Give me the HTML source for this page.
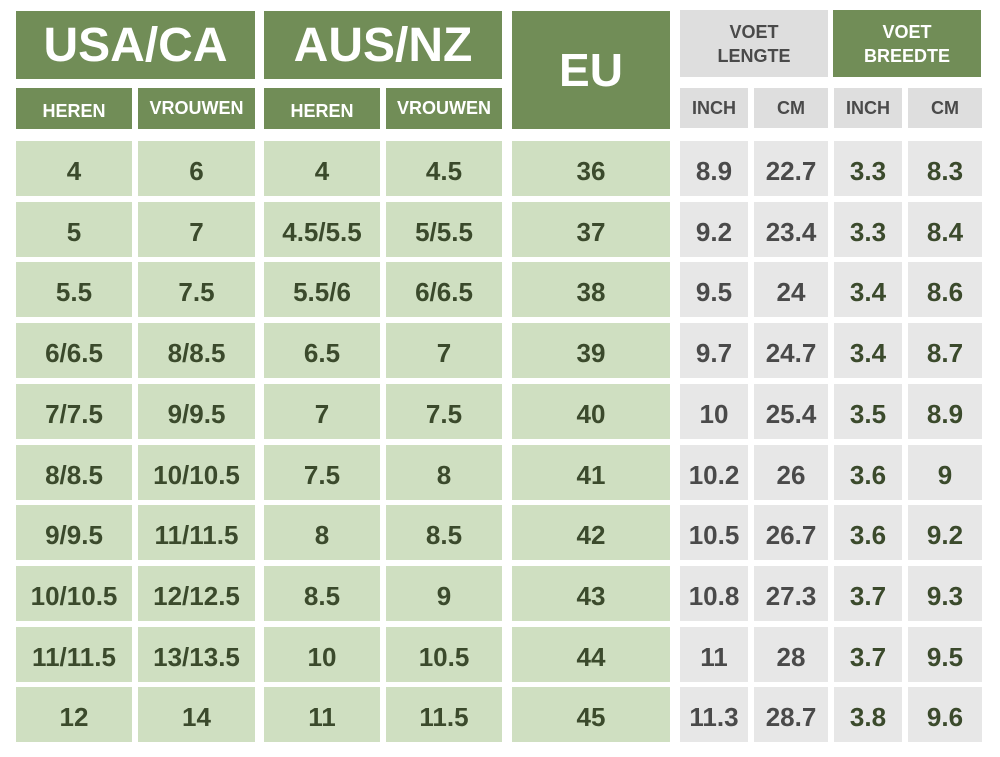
<!DOCTYPE html>
<html><head><style>
body{margin:0;width:1000px;height:757px;background:#fff;position:relative;overflow:hidden;font-family:"Liberation Sans",sans-serif;font-weight:bold}
div.c{position:absolute;display:flex;align-items:center;justify-content:center;text-align:center;box-sizing:border-box}
.h{background:#718d57;color:#fff}
.g{background:#cfdfc1;color:#3b4a2c}
.q{background:#e7e7e7;color:#4a4a4a}
.qh{background:#dedede;color:#4a4a4a}
.d{padding-top:6px}
</style></head><body>
<div class="c h" style="left:16px;top:11px;width:239px;height:68px;font-size:48px">USA/CA</div>
<div class="c h" style="left:264px;top:11px;width:238px;height:68px;font-size:48px">AUS/NZ</div>
<div class="c h" style="left:512px;top:11px;width:158px;height:118px;font-size:46px">EU</div>
<div class="c qh" style="left:680px;top:10px;width:148px;height:67px;font-size:18px;line-height:24px">VOET<br>LENGTE</div>
<div class="c h" style="left:833px;top:10px;width:148px;height:67px;font-size:18px;line-height:24px">VOET<br>BREEDTE</div>
<div id="sub"></div>
<script>
var H='';
function c(cls,x,y,w,h,fs,t){H+='<div class="c '+cls+'" style="left:'+x+'px;top:'+y+'px;width:'+w+'px;height:'+h+'px;font-size:'+fs+'px">'+t+'</div>';}
c('h d',16,88,116,41,18,'HEREN');c('h',138,88,117,41,18,'VROUWEN');
c('h d',264,88,116,41,18,'HEREN');c('h',386,88,116,41,18,'VROUWEN');
c('qh',680,88,68,40,18,'INCH');c('qh',754,88,74,40,18,'CM');
c('qh',834,88,68,40,18,'INCH');c('qh',908,88,74,40,18,'CM');
var d=[['4','6','4','4.5','36','8.9','22.7','3.3','8.3'],['5','7','4.5/5.5','5/5.5','37','9.2','23.4','3.3','8.4'],['5.5','7.5','5.5/6','6/6.5','38','9.5','24','3.4','8.6'],['6/6.5','8/8.5','6.5','7','39','9.7','24.7','3.4','8.7'],['7/7.5','9/9.5','7','7.5','40','10','25.4','3.5','8.9'],['8/8.5','10/10.5','7.5','8','41','10.2','26','3.6','9'],['9/9.5','11/11.5','8','8.5','42','10.5','26.7','3.6','9.2'],['10/10.5','12/12.5','8.5','9','43','10.8','27.3','3.7','9.3'],['11/11.5','13/13.5','10','10.5','44','11','28','3.7','9.5'],['12','14','11','11.5','45','11.3','28.7','3.8','9.6']];
var cols=[[16,116,'g'],[138,117,'g'],[264,116,'g'],[386,116,'g'],[512,158,'g'],[680,68,'q'],[754,74,'q'],[834,68,'q'],[908,74,'q']];
for(var r=0;r<10;r++){var y=141+r*60.7;for(var k=0;k<9;k++){c(cols[k][2]+' d',cols[k][0],Math.round(y),cols[k][1],55,26,d[r][k]);}}
document.getElementById('sub').innerHTML=H;
document.querySelectorAll('.q').forEach(function(e){if(parseInt(e.style.left)>=834)e.style.color='#3b4a2c';});
</script>
</body></html>
